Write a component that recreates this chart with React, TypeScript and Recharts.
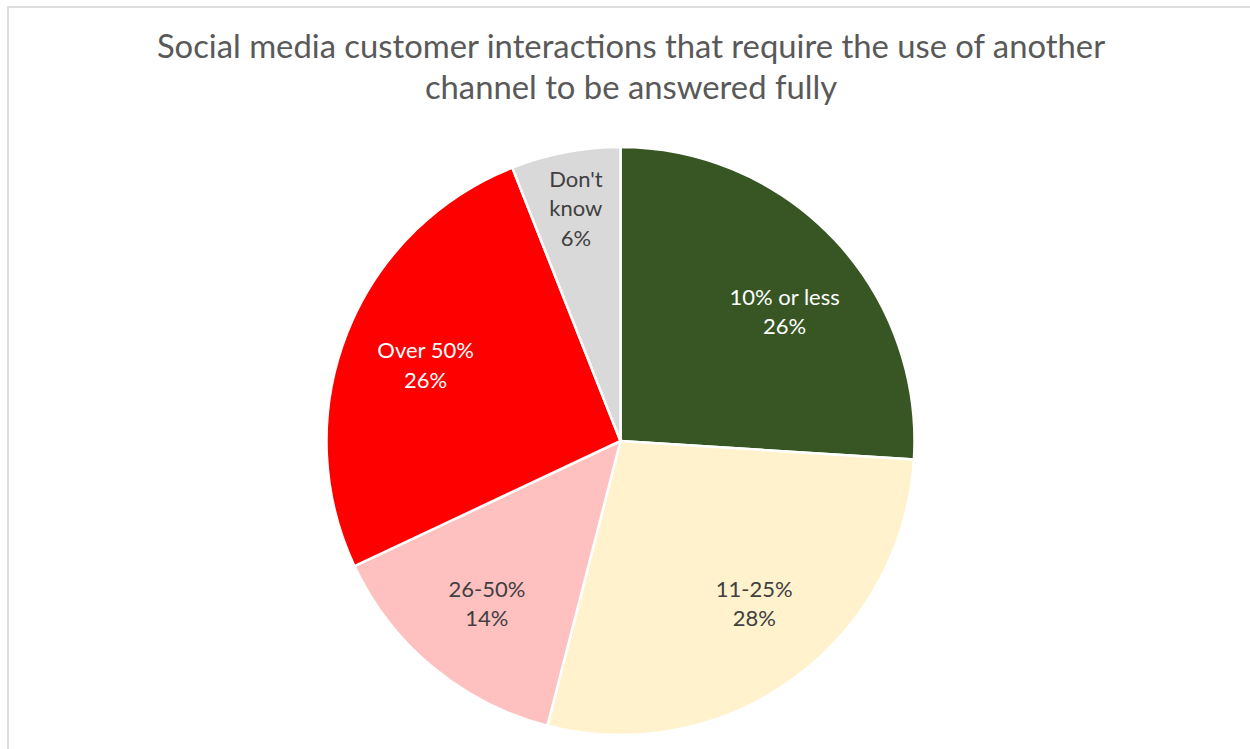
import { PieChart, Pie, Cell } from "recharts"

// shares of social media interactions needing another channel
const categories = ["10% or less", "11-25%", "26-50%", "Over 50%", "Don't know"]
const shares = [26, 28, 14, 26, 6]
const sliceColors = ["#375623", "#FFF2CC", "#FFC0C0", "#FF0000", "#D9D9D9"]
const labelColors = ["#FFFFFF", "#404040", "#404040", "#FFFFFF", "#404040"]
const labelLines = [["10% or less"], ["11-25%"], ["26-50%"], ["Over 50%"], ["Don't", "know"]]

const data = categories.map((name, i) => ({ name, value: shares[i] }))

const FONT = "Lato, 'Open Sans', sans-serif"
const RAD = Math.PI / 180

function renderLabel(props: any) {
  const { cx, cy, midAngle, outerRadius, index, percent } = props
  // excel's best-fit pulls the right-hand labels a little towards the horizontal
  const fromTop = (90 - midAngle) * RAD
  const ang = midAngle - 6.5 * Math.sin(2 * fromTop) * Math.max(0, Math.sin(fromTop))
  const r = outerRadius * (percent < 0.1 ? 0.81 : 0.713)
  const x = cx + r * Math.cos(-ang * RAD)
  const y = cy + r * Math.sin(-ang * RAD)
  const lines = [...labelLines[index], `${shares[index]}%`]
  const lh = 29.5
  const top = y - ((lines.length - 1) * lh) / 2
  return (
    <text
      x={x}
      y={top}
      fill={labelColors[index]}
      textAnchor="middle"
      dominantBaseline="central"
      fontFamily={FONT}
      fontSize={22}
    >
      {lines.map((t, i) => (
        <tspan key={i} x={x} y={top + i * lh}>
          {t}
        </tspan>
      ))}
    </text>
  )
}

export default function App() {
  return (
    <div
      style={{
        position: "absolute",
        left: 0,
        top: 0,
        width: 1250,
        height: 749,
        overflow: "hidden",
        background: "#fff",
      }}
    >
      <div
        style={{
          position: "absolute",
          left: 7,
          top: 6,
          width: 1300,
          height: 800,
          borderTop: "2px solid #dedede",
          borderLeft: "2px solid #dedede",
        }}
      />
      <div
        style={{
          position: "absolute",
          left: 0,
          width: 1262,
          top: 25,
          textAlign: "center",
          fontFamily: FONT,
          fontSize: 32.8,
          lineHeight: "41px",
          color: "#595959",
        }}
      >
        Social media customer interactions that require the use of another
        <br />
        channel to be answered fully
      </div>
      <div style={{ position: "absolute", left: 0, top: 0 }}>
        <PieChart width={1250} height={749} margin={{ top: 0, right: 0, bottom: 0, left: 0 }}>
          <Pie
            data={data}
            dataKey="value"
            nameKey="name"
            cx={620.5}
            cy={441}
            outerRadius={294}
            startAngle={90}
            endAngle={-270}
            stroke="#ffffff"
            strokeWidth={2.5}
            label={renderLabel}
            labelLine={false}
            isAnimationActive={false}
          >
            {data.map((d, i) => (
              <Cell key={d.name} fill={sliceColors[i]} />
            ))}
          </Pie>
        </PieChart>
      </div>
    </div>
  )
}
